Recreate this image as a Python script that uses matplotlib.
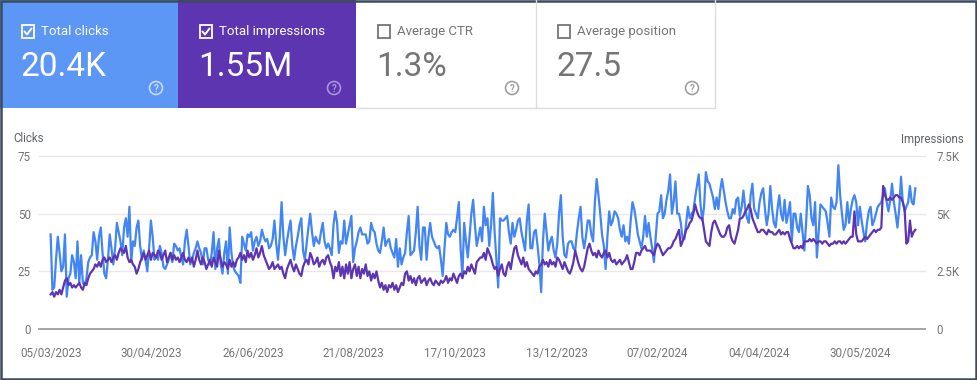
import pandas as pd
import matplotlib
matplotlib.use("Agg")
import matplotlib.pyplot as plt
import matplotlib.dates as mdates
from matplotlib.patches import Rectangle, Circle

plt.rcParams['font.family'] = ['Roboto', 'DejaVu Sans']

##########################################################################
#   Data (daily values, 05/03/2023 onward)
##########################################################################
start_date = '2023-03-05'

clicks = [
    41, 17, 18, 30, 40, 33, 25, 27, 41, 14, 22, 24, 32, 29, 22, 38, 20, 32, 20, 19,
    22, 29, 31, 32, 42, 38, 30, 40, 44, 33, 24, 22, 30, 41, 35, 28, 35, 46, 42, 38,
    32, 44, 48, 40, 53, 29, 38, 36, 44, 47, 36, 30, 34, 30, 25, 35, 47, 40, 30, 32,
    30, 36, 33, 27, 26, 28, 30, 33, 29, 37, 36, 34, 35, 31, 28, 38, 43, 36,
    28, 30, 33, 35, 38, 35, 33, 28, 35, 35, 30, 28, 33, 42, 26, 35, 39, 28, 24, 33,
    38, 24, 44, 33, 27, 25, 24, 23, 20, 40, 37, 34, 41, 40, 42, 34, 38, 40, 36, 38,
    43, 40, 38, 39, 35, 36, 39, 47, 37, 30, 40, 55, 40, 32, 38, 43, 47, 36, 30, 36,
    40, 45, 48, 34, 30, 37, 44, 50, 42, 36, 40, 38, 37, 42, 46, 38, 35, 37, 35, 32,
    45, 51,
    46, 33, 38, 37, 47, 37, 41, 45, 49, 29, 35, 38, 42, 44, 41, 41, 41, 37, 38, 46,
    43, 42, 37, 34, 33, 38, 44, 36, 38, 39, 35, 33, 31, 39, 27, 35, 28, 31, 33, 42,
    49, 32, 33, 34, 42, 53, 36, 30, 44, 44, 30, 40, 46, 40, 38, 36, 35, 36, 30, 23,
    35, 46, 41, 40, 42, 43, 42, 48, 55, 35, 23, 46, 38, 31, 40, 50, 56, 45, 36, 40,
    44,
    38, 53, 45, 48, 36, 45, 59, 42, 30, 18, 48, 47, 47, 48, 49, 42, 37, 46, 40, 43,
    47, 48, 42, 38, 34, 47, 54, 35, 35, 42, 43, 36, 28, 16, 38, 50, 42, 34, 38, 40,
    34, 31, 37, 50, 58, 40, 32, 31, 37, 38, 38, 35, 34, 42, 48, 53, 40, 35, 40, 47,
    47, 41, 38, 55, 65, 58, 50, 41, 36, 26, 40, 51, 45, 47, 51, 50, 48, 43, 40, 45,
    38, 40, 37, 47, 55, 52, 47, 41, 38, 35, 40, 49, 40, 46, 40, 35, 29, 40, 50, 51,
    58, 48, 50, 56, 60, 67, 50, 55, 64, 50, 50, 46, 39, 39, 46, 53, 48, 50, 51, 57,
    62, 67, 54, 47, 53, 68, 64, 63, 60, 57, 52, 57, 52, 60, 65, 60, 55, 51, 48, 48,
    52, 50, 56, 57, 49, 53, 60, 52, 48, 46, 58, 63, 52, 50, 48, 55, 59, 61, 52, 45,
    50, 62,
    52, 46, 44, 52, 58, 50, 47, 56, 46, 50, 55, 38, 50, 50, 44, 42, 50, 42, 34, 46,
    62, 58, 48, 45, 55, 31, 42, 54, 53, 52, 51, 46, 40, 57, 53, 52, 55, 71, 58, 50,
    43, 45, 55, 46, 52, 56, 58, 55, 45, 53, 47, 42, 38, 46, 51, 53, 45, 47, 50, 53,
    54, 55, 58, 61, 55, 51, 56, 63, 55, 50, 44, 52, 66, 55, 51, 53, 55, 62, 55, 54,
    61,
]

# impressions in hundreds (same grid as the clicks axis)
impressions_h = [
    15, 16, 14, 16, 15, 17, 15, 18, 21, 22, 19, 20, 18, 19, 18, 19, 20, 18, 17, 20,
    19, 22, 24, 25, 26, 28, 27, 29, 27, 30, 31, 29, 30, 31, 29, 31, 32, 30, 33, 35,
    34, 33, 36, 31, 29, 30, 28, 27, 24, 26, 29, 31, 33, 30, 32, 34, 30, 33, 32, 31,
    34, 33, 30, 32, 34, 29, 31, 33, 30, 32, 30, 31, 29, 31, 33, 30, 29, 31,
    29, 31, 27, 30, 34, 30, 28, 31, 29, 26, 28, 30, 27, 31, 29, 27, 34, 30, 27, 29,
    28, 26, 30, 27, 29, 27, 30, 31, 33, 30, 32, 29, 34, 31, 33, 30, 32, 35, 31, 33,
    36, 32, 30, 28, 26, 27, 29, 26, 27, 28, 26, 27, 24, 22, 26, 28, 30, 27, 25, 28,
    26, 24, 23, 27, 29, 30, 28, 33, 31, 28, 29, 31, 27, 29, 30, 28, 31, 32, 29, 27,
    22, 27,
    25, 29, 23, 27, 22, 28, 24, 29, 22, 26, 28, 23, 27, 22, 26, 24, 28, 23, 25, 21,
    24, 22, 25, 21, 18, 20, 17, 19, 16, 19, 18, 20, 17, 19, 16, 18, 20, 19, 24, 25,
    21, 23, 20, 22, 19, 22, 23, 20, 21, 22, 19, 21, 22, 20, 19, 21, 20, 19, 21, 20,
    21, 23, 20, 22, 21, 24, 22, 20, 23, 24, 22, 25, 24, 27, 25, 28, 26, 24, 29, 30,
    31,
    31, 33, 30, 35, 33, 31, 28, 26, 27, 23, 26, 28, 24, 23, 27, 29, 26, 31, 35, 36,
    32, 30, 28, 31, 27, 29, 26, 25, 24, 23, 25, 24, 27, 28, 30, 28, 29, 27, 30, 28,
    29, 27, 31, 30, 28, 26, 29, 27, 25, 24, 26, 29, 34, 31, 28, 26, 25, 27, 31, 35,
    37, 34, 32, 33, 31, 34, 32, 31, 33, 34, 31, 33, 30, 29, 30, 28, 29, 30, 28, 29,
    30, 32, 29, 26, 26, 29, 33, 33, 32, 34, 35, 36, 34, 34, 34, 33, 32, 35, 37, 36,
    34, 32, 33, 34, 35, 35, 36, 38, 39, 41, 43, 36, 38, 40, 43, 44, 46, 47, 50, 54,
    51, 49, 48, 48, 43, 38, 37, 36, 42, 46, 47, 45, 43, 41, 40, 40, 41, 44, 45, 40,
    38, 37, 40, 43, 48, 48, 49, 51, 52, 54, 52, 48, 46, 44, 42, 42, 43, 43, 42, 41,
    43, 42,
    42, 41, 41, 42, 43, 41, 42, 41, 42, 42, 39, 37, 35, 35, 36, 35, 36, 35, 38, 38,
    38, 39, 38, 39, 38, 37, 38, 38, 37, 38, 38, 37, 36, 37, 37, 38, 37, 38, 38, 37,
    38, 37, 38, 39, 40, 40, 51, 41, 38, 38, 38, 39, 40, 39, 40, 41, 42, 43, 42, 43,
    43, 44, 62, 58, 56, 56, 57, 56, 57, 58, 58, 57, 57, 55, 52, 37, 38, 47, 40, 42,
    43,
]
impressions = [v * 100 for v in impressions_h]

card_titles = ['Total clicks', 'Total impressions', 'Average CTR', 'Average position']
card_values = ['20.4K', '1.55M', '1.3%', '27.5']
card_selected = [True, True, False, False]
card_colors = ['#5c97f5', '#5e35b1', 'white', 'white']

tick_dates = ['2023-03-05', '2023-04-30', '2023-06-26', '2023-08-21', '2023-10-17',
              '2023-12-13', '2024-02-07', '2024-04-04', '2024-05-30']
click_ticks = [0, 25, 50, 75]
impr_ticks = [0, 2500, 5000, 7500]
impr_tick_labels = ['0', '2.5K', '5K', '7.5K']

##########################################################################
#   Drawing
##########################################################################
W, H = 977, 380
fig = plt.figure(figsize=(W / 100, H / 100), dpi=100)

# background layer in pixel coordinates for the cards and frame
bg = fig.add_axes([0, 0, 1, 1])
bg.set_xlim(0, W)
bg.set_ylim(H, 0)
bg.axis('off')

card_x = [0, 178, 356, 536]
card_w = [178, 178, 180, 179]
for i in range(len(card_titles)):
    x = card_x[i]
    bg.add_patch(Rectangle((x, 0), card_w[i], 108, facecolor=card_colors[i], edgecolor='none'))
    if card_selected[i]:
        tc, vc, qc = 'white', 'white', '#c9dafc' if i == 0 else '#a994d6'
    else:
        tc, vc, qc = '#757575', '#757575', '#a0a0a0'
    # checkbox
    bg.add_patch(Rectangle((x + 21.5, 25), 12.5, 12.5, fill=False, edgecolor=tc, lw=1.3))
    if card_selected[i]:
        bg.plot([x + 24.5, x + 27, x + 31.5], [31.5, 34.5, 28.5], color=tc, lw=1.4,
                solid_capstyle='round')
    bg.text(x + 41, 31.5, card_titles[i], fontsize=9.5, color=tc, va='center', ha='left')
    bg.text(x + 20, 67.5, card_values[i], fontsize=24, color=vc, va='center', ha='left')
    bg.add_patch(Circle((x + 156, 88), 6.5, fill=False, edgecolor=qc, lw=1.2))
    bg.text(x + 156, 88.5, '?', fontsize=7, color=qc, ha='center', va='center',
            fontweight='bold')

# card borders for the white cards
bg.plot([356, 715], [108, 108], color='#dadce0', lw=1)
bg.plot([536, 536], [0, 108], color='#dadce0', lw=1)
bg.plot([715, 715], [0, 108], color='#dadce0', lw=1)

bg.text(13, 139, 'Clicks', fontsize=8.3, color='#5f6368', va='center', ha='left')
bg.text(964, 139, 'Impressions', fontsize=8.3, color='#5f6368', va='center', ha='right')

bg.add_patch(Rectangle((1, 1), W - 2, H - 2, fill=False, edgecolor='#3d4a5c', lw=1.8))

# chart
dates = pd.date_range(start_date, periods=len(clicks), freq='D')
ax = fig.add_axes([39 / W, 1 - 329 / H, (925 - 39) / W, (329 - 156) / H])
ax.patch.set_visible(False)
ax2 = ax.twinx()

for v in click_ticks[1:]:
    ax.axhline(v, color='#e8e8e8', lw=1, clip_on=False, zorder=0)
ax.axhline(0, color='#9e9e9e', lw=1.3, clip_on=False, zorder=0)

ax.plot(dates, clicks, color='#4285f4', lw=1.6)
ax2.plot(dates, impressions, color='#5e35b1', lw=1.6)

x0 = mdates.date2num(dates[0])
ax.set_xlim(x0 - 6.5, x0 + 488.4)
ax.set_ylim(0, 75)
ax2.set_ylim(0, 7500)

ax.set_xticks(pd.to_datetime(tick_dates))
ax.xaxis.set_major_formatter(mdates.DateFormatter('%d/%m/%Y'))
ax.set_yticks(click_ticks)
ax2.set_yticks(impr_ticks, labels=impr_tick_labels)

ax.tick_params(axis='x', length=0, pad=13, labelsize=8.4, labelcolor='#757575')
ax.tick_params(axis='y', length=0, pad=6, labelsize=8.3, labelcolor='#757575')
ax2.tick_params(axis='y', length=0, pad=8, labelsize=8.3, labelcolor='#757575')

for a in (ax, ax2):
    for s in a.spines.values():
        s.set_visible(False)

fig.savefig('out.png', dpi=100)
